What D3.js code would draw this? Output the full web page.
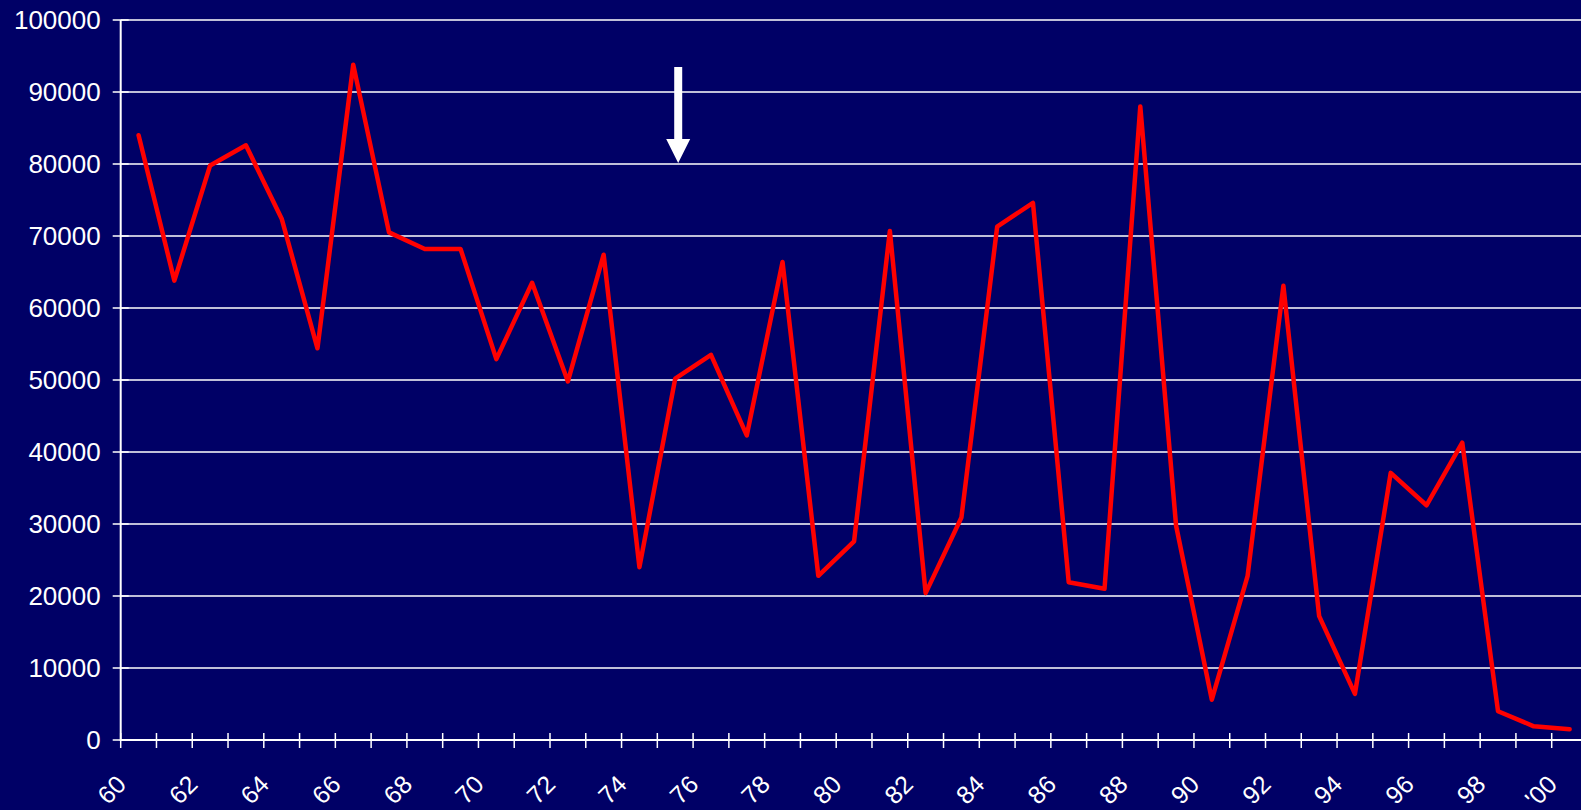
<!DOCTYPE html>
<html>
<head>
<meta charset="utf-8">
<script src="https://cdn.jsdelivr.net/npm/d3@7"></script>
<style>
  html, body { margin: 0; padding: 0; background: #000066; overflow: hidden; }
  svg { display: block; }
  text { font-family: "Liberation Sans", Arial, sans-serif; fill: #ffffff; }
</style>
</head>
<body>
<svg id="chart" width="1581" height="810"></svg>
<script>
// ---- data ----
const years = d3.range(1960, 2001);
const values = [
  84000, 63800, 79800, 82600, 72400, 54400, 93800, 70500, 68200, 68200,
  52900, 63500, 49800, 67400, 24000, 50200, 53500, 42300, 66400, 22800,
  27600, 70700, 20400, 30900, 71300, 74600, 21900, 21000, 88000, 29800,
  5600, 22800, 63100, 17200, 6400, 37100, 32600, 41300, 4000, 1900,
  1500
];
const yTicks = [0, 10000, 20000, 30000, 40000, 50000, 60000, 70000, 80000, 90000, 100000];
const labelYears = years.filter(v => v % 2 === 0);
const labelText = v => (v === 2000 ? "'00" : String(v % 100).padStart(2, "0"));
const arrowYear = 1975;

(function draw() {
  const W = 1581, H = 810;
  const mLeft = 120.7, step = 35.775, mTop = 20, mBottom = 740;

  const svg = d3.select("#chart");
  svg.append("rect").attr("width", W).attr("height", H).attr("fill", "#000066");

  const x = d3.scaleBand().domain(years).range([mLeft, mLeft + step * years.length]).padding(0);
  const y = d3.scaleLinear().domain([0, 100000]).range([mBottom, mTop]);
  const cx = d => x(d) + x.bandwidth() / 2;

  // gridlines
  svg.append("g").selectAll("line").data(yTicks.filter(t => t > 0)).join("line")
    .attr("x1", mLeft).attr("x2", W)
    .attr("y1", d => y(d)).attr("y2", d => y(d))
    .attr("stroke", "#ffffff").attr("stroke-width", 1.5);

  // y axis labels
  const yAxis = d3.axisLeft(y).tickValues(yTicks).tickSize(0).tickPadding(20).tickFormat(d3.format("d"));
  const gy = svg.append("g").attr("transform", `translate(${mLeft},0)`).call(yAxis);
  gy.select(".domain").remove();
  gy.selectAll("text").attr("font-size", 26).attr("fill", "#fff")
    .attr("font-family", '"Liberation Sans", Arial, sans-serif');
  // y ticks (crossing)
  svg.append("g").selectAll("line").data(yTicks).join("line")
    .attr("x1", mLeft - 8).attr("x2", mLeft + 8)
    .attr("y1", d => y(d)).attr("y2", d => y(d))
    .attr("stroke", "#ffffff").attr("stroke-width", 1.5);
  svg.append("line").attr("x1", mLeft).attr("x2", mLeft).attr("y1", mTop).attr("y2", mBottom + 1)
    .attr("stroke", "#ffffff").attr("stroke-width", 2);

  // x axis
  svg.append("line").attr("x1", mLeft).attr("x2", W).attr("y1", mBottom).attr("y2", mBottom)
    .attr("stroke", "#ffffff").attr("stroke-width", 2);
  const boundaries = years.map(d => x(d)).concat([x(years[years.length - 1]) + x.bandwidth()]);
  svg.append("g").selectAll("line").data(boundaries).join("line")
    .attr("x1", d => d).attr("x2", d => d)
    .attr("y1", mBottom - 7).attr("y2", mBottom + 8)
    .attr("stroke", "#ffffff").attr("stroke-width", 1.5);

  svg.append("g").selectAll("text").data(labelYears).join("text")
    .attr("transform", d => `translate(${cx(d) - 11},786) rotate(-45)`)
    .attr("text-anchor", "end")
    .attr("font-size", 25)
    .text(labelText);

  // data line
  const line = d3.line().x((d, i) => cx(years[i])).y(d => y(d));
  svg.append("path").datum(values)
    .attr("d", line)
    .attr("fill", "none")
    .attr("stroke", "#ff0000")
    .attr("stroke-width", 4.5)
    .attr("stroke-linejoin", "round")
    .attr("stroke-linecap", "round");

  // arrow annotation
  const ax = cx(arrowYear) + 3;
  svg.append("rect").attr("x", ax - 4).attr("y", 67).attr("width", 8).attr("height", 74).attr("fill", "#ffffff");
  svg.append("path")
    .attr("d", `M${ax - 12},139 L${ax + 12},139 L${ax},163 Z`)
    .attr("fill", "#ffffff");
})();
</script>
</body>
</html>
